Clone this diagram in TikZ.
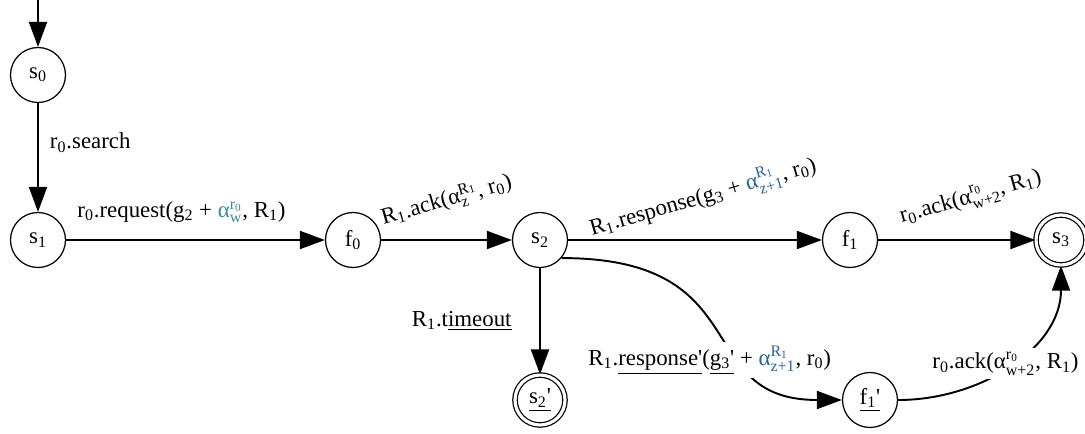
\documentclass[tikz,border=0pt]{standalone}
\usepackage{fontspec}
\usepackage{amsmath}
\setmainfont{Liberation Serif}
\usetikzlibrary{arrows.meta}

\definecolor{alphateal}{RGB}{58,140,150}
\definecolor{alphablue}{RGB}{42,100,150}
\newcommand{\idx}[1]{\textsubscript{#1}}
\newcommand{\alphaof}[2]{α$^{\text{#1}}_{\text{#2}}$}
\newcommand{\prm}{\textquotesingle}

\begin{document}
\begin{tikzpicture}[x=0.02cm, y=-0.02cm, font=\fontsize{13}{15}\selectfont,
    state/.style={circle, draw, line width=0.7pt, minimum size=1.1cm, inner sep=0pt},
    final/.style={state, double, double distance=1.8pt, minimum size=1.0cm},
    edge/.style={-{Triangle[length=0.5cm, width=0.36cm]}, line width=1.1pt},
    lbl/.style={inner sep=2pt}]
    \useasboundingbox (0,0) rectangle (1085,433);

    % states
    \node[state] (s0) at (38, 75) {s\idx{0}};
    \node[state] (s1) at (38, 240) {s\idx{1}};
    \node[state] (f0) at (353, 240) {f\idx{0}};
    \node[state] (s2) at (540, 240) {s\idx{2}};
    \node[state] (f1) at (850, 240) {f\idx{1}};
    \node[final] (s3) at (1061, 240) {s\idx{3}};
    \node[final] (s2p) at (540, 400) {\underline{s\idx{2}\prm}};
    \node[state] (f1p) at (870, 400) {\underline{f\idx{1}\prm}};
    \coordinate (start) at (38, 0);

    % transitions
    \draw[edge] (start) -- (s0);
    \draw[edge] (s0) -- node[lbl, right=0.15cm, yshift=0.3cm] {r\idx{0}.search} (s1);
    \draw[edge] (s1) -- node[lbl, xshift=-0.28cm, yshift=0.56cm] {r\idx{0}.request(g\idx{2} + \textcolor{alphateal}{\alphaof{r\idx{0}}{w}}, R\idx{1})} (f0);
    \draw[edge] (f0) -- node[lbl, yshift=0.8cm, rotate=16] {R\idx{1}.ack(\alphaof{R\idx{1}}{z}, r\idx{0})} (s2);
    \draw[edge] (s2) -- node[lbl, xshift=0.16cm, yshift=0.86cm, rotate=16] {R\idx{1}.response(g\idx{3} + \textcolor{alphablue}{\alphaof{R\idx{1}}{z+1}}, r\idx{0})} (f1);
    \draw[edge] (f1) -- node[lbl, xshift=0.28cm, yshift=0.84cm, rotate=16] {r\idx{0}.ack(\alphaof{r\idx{0}}{w+2}, R\idx{1})} (s3);
    \draw[edge] (s2) -- node[lbl, left=0.48cm] {R\idx{1}.t\underline{imeout}} (s2p);
    \draw[edge] (s2.-40) .. controls (760, 258) and (690, 400) .. node[lbl, pos=0.6, fill=white, xshift=-0.5cm, yshift=-0.2cm] {R\idx{1}.\underline{response\prm}(\underline{g\idx{3}\prm} + \textcolor{alphablue}{\alphaof{R\idx{1}}{z+1}}, r\idx{0})} (f1p);
    \draw[edge] (f1p) to[out=0, in=-90] node[lbl, fill=white, xshift=-0.1cm] {r\idx{0}.ack(\alphaof{r\idx{0}}{w+2}, R\idx{1})} (s3);

\end{tikzpicture}
\end{document}
